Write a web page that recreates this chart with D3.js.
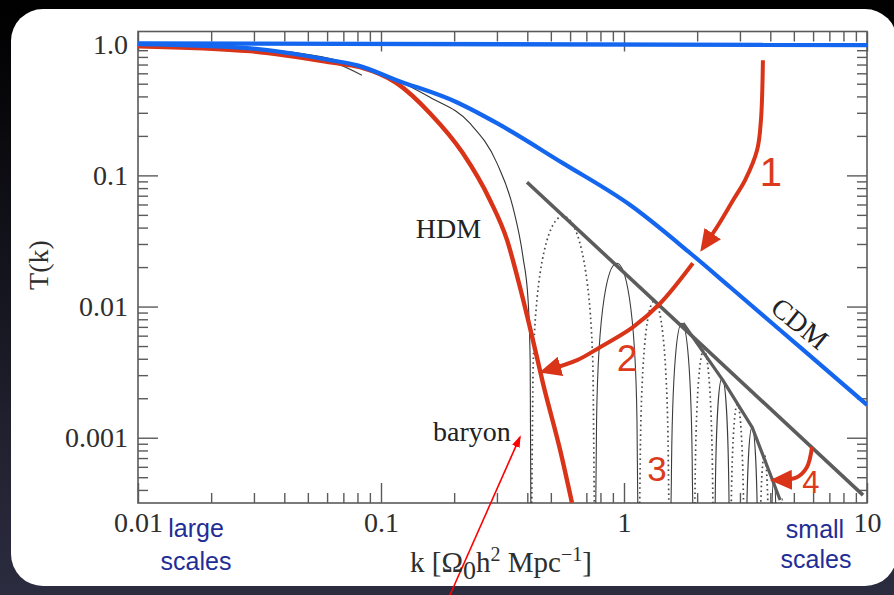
<!DOCTYPE html>
<html>
<head>
<meta charset="utf-8">
<script src="https://cdn.jsdelivr.net/npm/d3@7"></script>
<style>
html,body{margin:0;padding:0;background:#000;}
svg{display:block;}
</style>
</head>
<body>
<svg id="chart" width="894" height="595"></svg>
<script>
// values: k [Omega0 h^2 Mpc^-1] and T(k)
var flatK = [0.01, 10];
var flatT = [1.015, 0.985];

var cdmK = [0.01, 0.029, 0.062, 0.08, 0.116, 0.205, 0.30, 0.56, 1.06, 1.87, 2.73, 5.3, 10];
var cdmT = [1.0, 0.93, 0.755, 0.69, 0.532, 0.361, 0.25, 0.124, 0.0594, 0.0256, 0.0141, 0.0049, 0.00178];

var hdmK = [0.01, 0.029, 0.062, 0.082, 0.116, 0.159, 0.217, 0.281, 0.330, 0.373, 0.422, 0.464, 0.546, 0.611];
var hdmT = [0.965, 0.885, 0.729, 0.668, 0.505, 0.298, 0.148, 0.0647, 0.0322, 0.0141, 0.00554, 0.0026, 0.000805, 0.000318];

// thin original curves of the figure
var hdmThinK = [0.029, 0.0617, 0.0835];
var hdmThinT = [0.89, 0.74, 0.58];
var baryonK = [0.01, 0.029, 0.0795, 0.1164, 0.159, 0.232, 0.300, 0.349, 0.384, 0.403, 0.411, 0.415];
var baryonT = [1.0, 0.93, 0.69, 0.532, 0.394, 0.25, 0.124, 0.0572, 0.0238, 0.0112, 0.0039, 0.0001];

// oscillation arches (zeros left/right, height of the top), solid / dotted
var archLeft  = [0.417, 0.765, 1.16, 1.56, 1.95, 2.36, 2.74, 3.17, 3.60, 4.00, 4.32];
var archRight = [0.755, 1.14, 1.53, 1.92, 2.33, 2.72, 3.13, 3.57, 3.97, 4.28, 4.62];
var archPeak  = [0.0489, 0.0214, 0.0110, 0.00747, 0.00465, 0.00285, 0.0018, 0.0012, 0.00074, 0.00049, 0.00034];
var archDotted = [1, 0, 1, 0, 1, 0, 1, 0, 1, 0, 1];

// grey envelopes
var env1K = [0.399, 9.63];
var env1T = [0.0887, 0.000365];
var env2K = [1.75, 2.55, 3.37, 4.39];
var env2T = [0.00747, 0.00275, 0.00120, 0.000335];

var xMajor = [0.01, 0.1, 1, 10];
var xMajorLabels = ['0.01', '0.1', '1', '10'];
var yMajor = [0.001, 0.01, 0.1, 1];
var yMajorLabels = ['0.001', '0.01', '0.1', '1.0'];

// red annotation arrows (k, T)
var arrow1 = [[3.73, 0.755], [3.66, 0.263], [3.53, 0.156], [3.15, 0.0919], [2.81, 0.0646], [2.44, 0.0417], [2.15, 0.0294]];
var arrow2 = [[1.92, 0.0214], [1.41, 0.0106], [1.089, 0.00697], [0.797, 0.0049], [0.641, 0.0039], [0.482, 0.00327]];
var arrow4 = [[5.94, 0.00085], [5.66, 0.000597], [5.15, 0.0005], [4.30, 0.000475]];
var arrowBaryon = [[0.192, 0.000063], [0.373, 0.00101]];

var noteText = ['1', '2', '3', '4'];
var noteK = [4.02, 1.03, 1.367, 5.88];
var noteT = [0.106, 0.00411, 0.000586, 0.000459];
var noteSize = [40, 37, 35, 31];

var W = 894, H = 595;
var plot = {left: 138, right: 867, top: 31.5, bottom: 503};
var red = '#d93418', blue = '#1466ef', grey = '#5c5c5c';
var serif = "'Liberation Serif','Times New Roman',serif";
var sans = "'Liberation Sans',Arial,sans-serif";

var svg = d3.select('#chart');
var defs = svg.append('defs');

var bg = defs.append('linearGradient').attr('id', 'bg').attr('x1', 0).attr('y1', 0).attr('x2', 0).attr('y2', 1);
bg.append('stop').attr('offset', '0%').attr('stop-color', '#000');
bg.append('stop').attr('offset', '100%').attr('stop-color', '#2c2c40');

defs.append('clipPath').attr('id', 'plotclip').append('rect')
  .attr('x', plot.left).attr('y', plot.top)
  .attr('width', plot.right - plot.left).attr('height', plot.bottom - plot.top);

defs.append('marker').attr('id', 'headRed')
  .attr('viewBox', '0 0 22 20').attr('refX', 14).attr('refY', 10)
  .attr('markerWidth', 22).attr('markerHeight', 20)
  .attr('markerUnits', 'userSpaceOnUse').attr('orient', 'auto')
  .append('path').attr('d', 'M0,0 L22,10 L0,20 Z').attr('fill', red);

defs.append('marker').attr('id', 'headThin')
  .attr('viewBox', '0 0 12 8').attr('refX', 10).attr('refY', 4)
  .attr('markerWidth', 12).attr('markerHeight', 8)
  .attr('markerUnits', 'userSpaceOnUse').attr('orient', 'auto')
  .append('path').attr('d', 'M0,0 L12,4 L0,8 Z').attr('fill', '#f00');

svg.append('rect').attr('width', W).attr('height', H).attr('fill', 'url(#bg)');
svg.append('rect').attr('x', 11).attr('y', 9).attr('width', 886).attr('height', 577)
  .attr('rx', 32).attr('fill', '#fff');

var x = d3.scaleLog().domain([0.01, 10]).range([plot.left, plot.right]);
var y = d3.scaleLog().domain([3.18e-4, 1.25]).range([plot.bottom, plot.top]);

var xMinor = x.ticks().filter(function(v){ return xMajor.indexOf(v) < 0; });
var yMinor = y.ticks().filter(function(v){ return yMajor.indexOf(v) < 0; });

var pairs = function(ks, ts){ return ks.map(function(k, i){ return [k, ts[i]]; }); };
var line = d3.line().x(function(d){ return x(d[0]); }).y(function(d){ return y(d[1]); }).curve(d3.curveMonotoneX);
var straight = d3.line().x(function(d){ return x(d[0]); }).y(function(d){ return y(d[1]); });
var bent = d3.line().x(function(d){ return x(d[0]); }).y(function(d){ return y(d[1]); }).curve(d3.curveCatmullRom);

////////////// AXES //////////////
var styleAxis = function(g){
  g.select('.domain').remove();
  g.selectAll('line').attr('stroke', '#5a5a5a').attr('stroke-width', 1.4);
  g.attr('font-family', serif).attr('font-size', 28);
  g.selectAll('text').attr('fill', '#2e2e2e');
};

var axisSet = [
  {axis: d3.axisBottom(x), t: [0, plot.bottom], major: xMajor, labels: xMajorLabels, pad: 9},
  {axis: d3.axisTop(x), t: [0, plot.top], major: xMajor, labels: null},
  {axis: d3.axisLeft(y), t: [plot.left, 0], major: yMajor, labels: yMajorLabels, pad: 10},
  {axis: d3.axisRight(y), t: [plot.right, 0], major: yMajor, labels: null}
];
axisSet.forEach(function(a){
  var minor = (a.major === xMajor) ? xMinor : yMinor;
  var gMin = svg.append('g').attr('transform', 'translate(' + a.t + ')')
    .call(a.axis.tickValues(minor).tickSize(-10).tickFormat(''));
  styleAxis(gMin);
  var gMaj = svg.append('g').attr('transform', 'translate(' + a.t + ')')
    .call(a.axis.tickValues(a.major).tickSize(-20).tickPadding(a.pad || 3)
      .tickFormat(function(d, i){ return a.labels ? a.labels[i] : ''; }));
  styleAxis(gMaj);
});

svg.append('rect').attr('x', plot.left).attr('y', plot.top)
  .attr('width', plot.right - plot.left).attr('height', plot.bottom - plot.top)
  .attr('fill', 'none').attr('stroke', '#5a5a5a').attr('stroke-width', 1.6);

////////////// CURVES //////////////
var g = svg.append('g').attr('clip-path', 'url(#plotclip)');

var archPath = function(k0, k1, tp){
  var xl = x(k0), xr = x(k1), yp = y(tp), yb = plot.bottom + 5;
  var w = xr - xl, xm = (xl + xr) / 2;
  var p = d3.path();
  p.moveTo(xl, yb);
  p.lineTo(xl + 0.02 * w, yp + 158);
  p.bezierCurveTo(xl + 0.06 * w, yp + 40, xl + 0.3 * w, yp, xm, yp);
  p.bezierCurveTo(xr - 0.3 * w, yp, xr - 0.06 * w, yp + 40, xr - 0.02 * w, yp + 158);
  p.lineTo(xr, yb);
  return p.toString();
};

g.selectAll('path.arch').data(archLeft).enter().append('path')
  .attr('class', 'arch')
  .attr('d', function(d, i){ return archPath(archLeft[i], archRight[i], archPeak[i]); })
  .attr('fill', 'none')
  .attr('stroke', function(d, i){ return archDotted[i] ? '#4a4a4a' : '#3c3c3c'; })
  .attr('stroke-width', function(d, i){ return archDotted[i] ? 1.7 : 1.1; })
  .attr('stroke-dasharray', function(d, i){ return archDotted[i] ? '1.6,3.2' : null; });

g.append('path').attr('d', line(pairs(baryonK, baryonT)))
  .attr('fill', 'none').attr('stroke', '#333').attr('stroke-width', 1.1);
g.append('path').attr('d', line(pairs(hdmThinK, hdmThinT)))
  .attr('fill', 'none').attr('stroke', '#444').attr('stroke-width', 1.1);

g.append('path').attr('d', straight(pairs(env1K, env1T)))
  .attr('fill', 'none').attr('stroke', grey).attr('stroke-width', 3.6);
g.append('path').attr('d', straight(pairs(env2K, env2T)))
  .attr('fill', 'none').attr('stroke', grey).attr('stroke-width', 3.2).attr('stroke-linejoin', 'round');

g.append('path').attr('d', line(pairs(hdmK, hdmT)))
  .attr('fill', 'none').attr('stroke', red).attr('stroke-width', 4.4);
g.append('path').attr('d', line(pairs(cdmK, cdmT)))
  .attr('fill', 'none').attr('stroke', blue).attr('stroke-width', 4.2);
g.append('path').attr('d', straight(pairs(flatK, flatT)))
  .attr('fill', 'none').attr('stroke', blue).attr('stroke-width', 4.4);

////////////// ANNOTATIONS //////////////
[arrow1, arrow2, arrow4].forEach(function(a){
  svg.append('path').attr('d', bent(a))
    .attr('fill', 'none').attr('stroke', red).attr('stroke-width', 4)
    .attr('marker-end', 'url(#headRed)');
});
svg.append('path').attr('d', straight(arrowBaryon))
  .attr('fill', 'none').attr('stroke', '#f00').attr('stroke-width', 1.6)
  .attr('marker-end', 'url(#headThin)');

svg.selectAll('text.note').data(noteText).enter().append('text')
  .attr('class', 'note')
  .attr('x', function(d, i){ return x(noteK[i]); })
  .attr('y', function(d, i){ return y(noteT[i]); })
  .attr('dy', '0.36em')
  .attr('text-anchor', 'middle')
  .attr('font-family', sans)
  .attr('font-size', function(d, i){ return noteSize[i]; })
  .attr('fill', '#dc3a1c')
  .text(function(d){ return d; });

svg.append('text').attr('x', x(0.139)).attr('y', y(0.0332))
  .attr('font-family', serif).attr('font-size', 28).attr('fill', '#222').text('HDM');
svg.append('text').attr('x', x(0.1637)).attr('y', y(0.00094))
  .attr('font-family', serif).attr('font-size', 28).attr('fill', '#222').text('baryon');
svg.append('text')
  .attr('transform', 'translate(' + x(5.3) + ',' + y(0.00747) + ') rotate(39)')
  .attr('dy', '0.35em').attr('text-anchor', 'middle')
  .attr('font-family', serif).attr('font-size', 28).attr('fill', '#222').text('CDM');

// axis titles
svg.append('text')
  .attr('transform', 'translate(38,265) rotate(-90)')
  .attr('dy', '0.35em').attr('text-anchor', 'middle')
  .attr('font-family', serif).attr('font-size', 28).attr('fill', '#2e2e2e').text('T(k)');

var xt = svg.append('text').attr('x', 410).attr('y', 572)
  .attr('font-family', serif).attr('font-size', 29).attr('fill', '#2e2e2e');
xt.append('tspan').text('k [\u03A9');
xt.append('tspan').attr('font-size', 26).attr('dy', 7).text('0');
xt.append('tspan').attr('dy', -7).text('h');
xt.append('tspan').attr('font-size', 20).attr('dy', -11).text('2');
xt.append('tspan').attr('dy', 11).text(' Mpc');
xt.append('tspan').attr('font-size', 20).attr('dy', -11).text('\u22121');
xt.append('tspan').attr('dy', 11).text(']');

// blue notes under the axis
var scaleNotes = [['large', 196, 537], ['scales', 196, 570], ['small', 815, 538], ['scales', 816, 568]];
scaleNotes.forEach(function(s){
  svg.append('text').attr('x', s[1]).attr('y', s[2])
    .attr('text-anchor', 'middle').attr('font-family', sans).attr('font-size', 25)
    .attr('fill', '#1f2d96').text(s[0]);
});
</script>
</body>
</html>
